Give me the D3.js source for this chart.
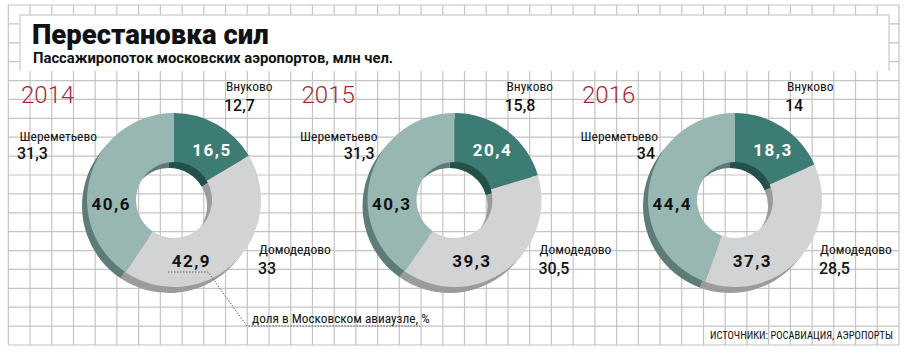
<!DOCTYPE html>
<html>
<head>
<meta charset="utf-8">
<script src="https://cdn.jsdelivr.net/npm/d3@7"></script>
<style>
  body { margin: 0; background: #fff; }
  svg { display: block; }
</style>
</head>
<body>
<div id="chart"></div>
<script>
// chart data
var years = ["2014", "2015", "2016"];
var airports = ["Внуково", "Домодедово", "Шереметьево"];
// passenger traffic, mln people
var vnukovoPax = [12.7, 15.8, 14];
var domodedovoPax = [33, 30.5, 28.5];
var sheremetyevoPax = [31.3, 31.3, 34];
// share in Moscow air hub, %
var vnukovoShare = [16.5, 20.4, 18.3];
var domodedovoShare = [42.9, 39.3, 37.3];
var sheremetyevoShare = [40.6, 40.3, 44.4];

var title = "Перестановка сил";
var subtitle = "Пассажиропоток московских аэропортов, млн чел.";
var note = "доля в Московском авиаузле, %";
var source = "ИСТОЧНИКИ: РОСАВИАЦИЯ, АЭРОПОРТЫ";

var W = 908, H = 353;
var faceColor = ["#3d7c74", "#d2d3d5", "#98b6b2"];
var shadowColor = ["#24504a", "#9a9b9d", "#5f7b77"];
var fmt = function(v) { return String(v).replace(".", ","); };

var svg = d3.select("#chart").append("svg")
    .attr("width", W).attr("height", H);

// grid paper background
var gx = d3.scaleLinear().domain([0, 41]).range([8.3, 899]);
var gy = d3.scaleLinear().domain([0, 18]).range([5, 345]);
var grid = svg.append("g").attr("stroke", "#c3c3c3").attr("stroke-width", 1.2);
grid.selectAll("line.v").data(d3.range(42)).enter().append("line")
    .attr("x1", function(d) { return gx(d); }).attr("x2", function(d) { return gx(d); })
    .attr("y1", gy(0)).attr("y2", gy(18));
grid.selectAll("line.h").data(d3.range(19)).enter().append("line")
    .attr("y1", function(d) { return gy(d); }).attr("y2", function(d) { return gy(d); })
    .attr("x1", gx(0)).attr("x2", gx(41));

// title box
svg.append("rect").attr("x", 20).attr("y", 15).attr("width", 869).attr("height", 56)
    .attr("fill", "#fff");
svg.append("path").attr("d", "M20,71V15H889V71")
    .attr("fill", "none").attr("stroke", "#d4d4d4").attr("stroke-width", 1.5);

svg.append("text").attr("x", 32).attr("y", 44).text(title)
    .style("font-family", "Roboto, sans-serif").style("font-weight", "900")
    .style("font-size", "27.5px").attr("fill", "#111");
svg.append("text").attr("x", 33).attr("y", 63).text(subtitle)
    .style("font-family", "Roboto, sans-serif").style("font-weight", "700")
    .style("font-size", "14.8px").attr("fill", "#111");

// donuts
var cxScale = d3.scalePoint().domain(years).range([174, 735]);
var cy = 200, outerR = 87, innerR = 38;
var pie = d3.pie().sort(null).value(function(d) { return d; });
var arc = d3.arc().innerRadius(innerR).outerRadius(outerR);
// angles (deg, clockwise from top) where the share labels sit
var labelAngle = [37, 164, 266], labelR = 63;

var nameFont = "'Liberation Sans Narrow', 'Roboto Condensed', 'Arial Narrow', sans-serif";

years.forEach(function(yr, i) {
  var cx = cxScale(yr);
  var shares = [vnukovoShare[i], domodedovoShare[i], sheremetyevoShare[i]];
  var pax = [vnukovoPax[i], domodedovoPax[i], sheremetyevoPax[i]];
  var arcs = pie(shares);

  var g = svg.append("g").attr("transform", "translate(" + cx + "," + cy + ")");

  // extruded shadow under the ring
  g.append("g").attr("transform", "translate(-5,6)")
    .selectAll("path").data(arcs).enter().append("path")
      .attr("d", arc).attr("fill", function(d, k) { return shadowColor[k]; });
  g.append("g").selectAll("path").data(arcs).enter().append("path")
      .attr("d", arc).attr("fill", function(d, k) { return faceColor[k]; });

  g.selectAll("text.share").data(arcs).enter().append("text")
      .attr("x", function(d, k) { return labelR * Math.sin(labelAngle[k] * Math.PI / 180); })
      .attr("y", function(d, k) { return -labelR * Math.cos(labelAngle[k] * Math.PI / 180) + 6; })
      .attr("text-anchor", "middle")
      .style("font-family", "Roboto, sans-serif").style("font-weight", "700")
      .style("font-size", "17px").style("letter-spacing", "1.5px")
      .attr("fill", function(d, k) { return k === 0 ? "#fff" : "#111"; })
      .text(function(d) { return fmt(d.data); });

  // year
  svg.append("text").attr("x", cx - 153).attr("y", 103).text(yr)
    .style("font-family", "Roboto, sans-serif").style("font-weight", "300")
    .style("font-size", "24px").attr("fill", "#a8283a");

  // airport names and traffic
  var nameStyle = function(t) {
    t.style("font-family", nameFont).style("font-size", "13.5px").attr("fill", "#111");
  };
  var numStyle = function(t) {
    t.style("font-family", "Roboto, sans-serif").style("font-weight", "500")
     .style("font-size", "16px").attr("fill", "#111");
  };
  // Внуково
  svg.append("text").attr("x", cx + 52).attr("y", 91).text(airports[0]).call(nameStyle);
  svg.append("text").attr("x", cx + 50).attr("y", 111).text(fmt(pax[0])).call(numStyle);
  // Домодедово
  svg.append("text").attr("x", cx + 85).attr("y", 254).text(airports[1]).call(nameStyle);
  svg.append("text").attr("x", cx + 84).attr("y", 274).text(fmt(pax[1])).call(numStyle);
  // Шереметьево
  svg.append("text").attr("x", cx - 77).attr("y", 141).attr("text-anchor", "end")
    .text(airports[2]).call(nameStyle);
  svg.append("text")
    .attr("x", i === 0 ? cx - 157 : cx - 80).attr("y", 159)
    .attr("text-anchor", i === 0 ? "start" : "end")
    .text(fmt(pax[2])).call(numStyle);
});

// leader to the share note
svg.append("path").attr("d", "M168,272H208L247,326H420")
  .attr("fill", "none").attr("stroke", "#666").attr("stroke-width", 1)
  .attr("stroke-dasharray", "1.5,1.5");
svg.append("text").attr("x", 252).attr("y", 323).text(note)
  .style("font-family", nameFont).style("font-size", "13.3px").attr("fill", "#111");

svg.append("text").attr("x", 893).attr("y", 339).attr("text-anchor", "end").text(source)
  .style("font-family", nameFont).style("font-size", "10.5px").attr("fill", "#111");
</script>
</body>
</html>
